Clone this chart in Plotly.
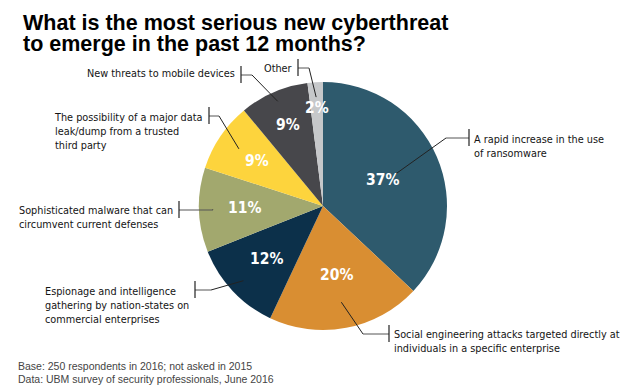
import math
import plotly.graph_objects as go

# ---- data ----
categories = [
    "A rapid increase in the use of ransomware",
    "Social engineering attacks targeted directly at individuals in a specific enterprise",
    "Espionage and intelligence gathering by nation-states on commercial enterprises",
    "Sophisticated malware that can circumvent current defenses",
    "The possibility of a major data leak/dump from a trusted third party",
    "New threats to mobile devices",
    "Other",
]
values = [37, 20, 12, 11, 9, 9, 2]
label_lines = [
    ["A rapid increase in the use", "of ransomware"],
    ["Social engineering attacks targeted directly at", "individuals in a specific enterprise"],
    ["Espionage and intelligence", "gathering by nation-states on", "commercial enterprises"],
    ["Sophisticated malware that can", "circumvent current defenses"],
    ["The possibility of a major data", "leak/dump from a trusted", "third party"],
    ["New threats to mobile devices"],
    ["Other"],
]
title_lines = ["What is the most serious new cyberthreat", "to emerge in the past 12 months?"]
notes = ["Base: 250 respondents in 2016; not asked in 2015",
         "Data: UBM survey of security professionals, June 2016"]

colors = ["#2e5a6d", "#d98e32", "#0c304a", "#a2a86e", "#fdd43d", "#47474b", "#c6c8ca"]

# ---- layout constants (pixels, as seen in the page) ----
W, H = 633, 387
OFF = 8                       # default page margin around the plot div
CX, CY, R = 323, 206, 124
pct_r = [0.52, 0.57, 0.63, 0.63, 0.64, 0.71, 0.79]     # radial position of % labels
lead_r = [0.62, 0.79, 0.88, 0.89, 0.82, 0.92, 0.88]    # leader start radius
# elbow (x, y), bar x, side of text, first line y
leaders = [
    (446, 138, 469, "r", 139),
    (363, 334, 389, "r", 334),
    (211, 290, 195, "l", 291),
    (213, 210, 179, "l", 210),
    (219, 116, 209, "l", 117),
    (252, 75, 241, "l", 74),
    (309, 68, 298, "l", 68),
]
LAB_SIZE = 10.8
LINE_H = 1.3 * LAB_SIZE       # plotly's multi-line spacing

def px(x):
    return (x - OFF) / W

def py(y):
    return 1 - (y - OFF) / H

LAB_FAMILY = "DejaVu Sans Condensed, Liberation Sans Narrow, Arial Narrow"

fig = go.Figure()
fig.add_trace(go.Pie(
    labels=categories, values=values, sort=False, direction="clockwise",
    rotation=0, marker=dict(colors=colors, line=dict(width=0)),
    textinfo="none", hoverinfo="label+percent", showlegend=False,
    domain=dict(x=[px(CX - R), px(CX + R)], y=[py(CY + R), py(CY - R)]),
))

total = sum(values)
cum = 0
annotations = []
shapes = []
lab_font = dict(family=LAB_FAMILY, size=LAB_SIZE, color="#141414")
for i, v in enumerate(values):
    mid = (cum + v / 2) / total * 2 * math.pi
    cum += v
    # percent label
    rx = CX + pct_r[i] * R * math.sin(mid)
    ry = CY - pct_r[i] * R * math.cos(mid)
    annotations.append(dict(
        x=px(rx), y=py(ry), xref="paper", yref="paper", showarrow=False,
        text=f"<b>{v}%</b>", xanchor="center", yanchor="middle",
        font=dict(family=LAB_FAMILY, size=15.5, color="white"),
    ))
    # leader line
    sx = CX + lead_r[i] * R * math.sin(mid)
    sy = CY - lead_r[i] * R * math.cos(mid)
    ex, ey, bx, side, ty = leaders[i]
    shapes.append(dict(type="line", xref="paper", yref="paper",
                       x0=px(sx), y0=py(sy), x1=px(ex), y1=py(ey),
                       line=dict(color="#222222", width=1)))
    shapes.append(dict(type="line", xref="paper", yref="paper",
                       x0=px(ex), y0=py(ey), x1=px(bx), y1=py(ey),
                       line=dict(color="#555555", width=1)))
    shapes.append(dict(type="line", xref="paper", yref="paper",
                       x0=px(bx), y0=py(ey - 9), x1=px(bx), y1=py(ey + 8),
                       line=dict(color="#222222", width=1.2)))
    n = len(label_lines[i])
    block_mid = ty + (n - 1) * LINE_H / 2
    if side == "l":
        ax, anchor = bx - 4, "right"
    else:
        ax, anchor = bx + 3, "left"
    annotations.append(dict(
        x=px(ax), y=py(block_mid), xref="paper", yref="paper", showarrow=False,
        text="<br>".join(label_lines[i]), align="left",
        xanchor=anchor, yanchor="middle", font=lab_font,
    ))

for j, t in enumerate(title_lines):
    annotations.append(dict(
        x=px(21), y=py(8.5 + j * 21), xref="paper", yref="paper", showarrow=False,
        text=f"<b>{t}</b>", xanchor="left", yanchor="top",
        font=dict(family="Liberation Sans, Arial", size=21.5, color="black"),
    ))
for j, t in enumerate(notes):
    annotations.append(dict(
        x=px(16), y=py(366 + j * 12.5), xref="paper", yref="paper", showarrow=False,
        text=t, xanchor="left", yanchor="middle",
        font=dict(family="Liberation Sans, Arial", size=10.5, color="#444444"),
    ))

fig.update_layout(
    width=W, height=H, margin=dict(l=0, r=0, t=0, b=0),
    paper_bgcolor="white", plot_bgcolor="white",
    annotations=annotations, shapes=shapes,
)
fig.write_html("out.html")
